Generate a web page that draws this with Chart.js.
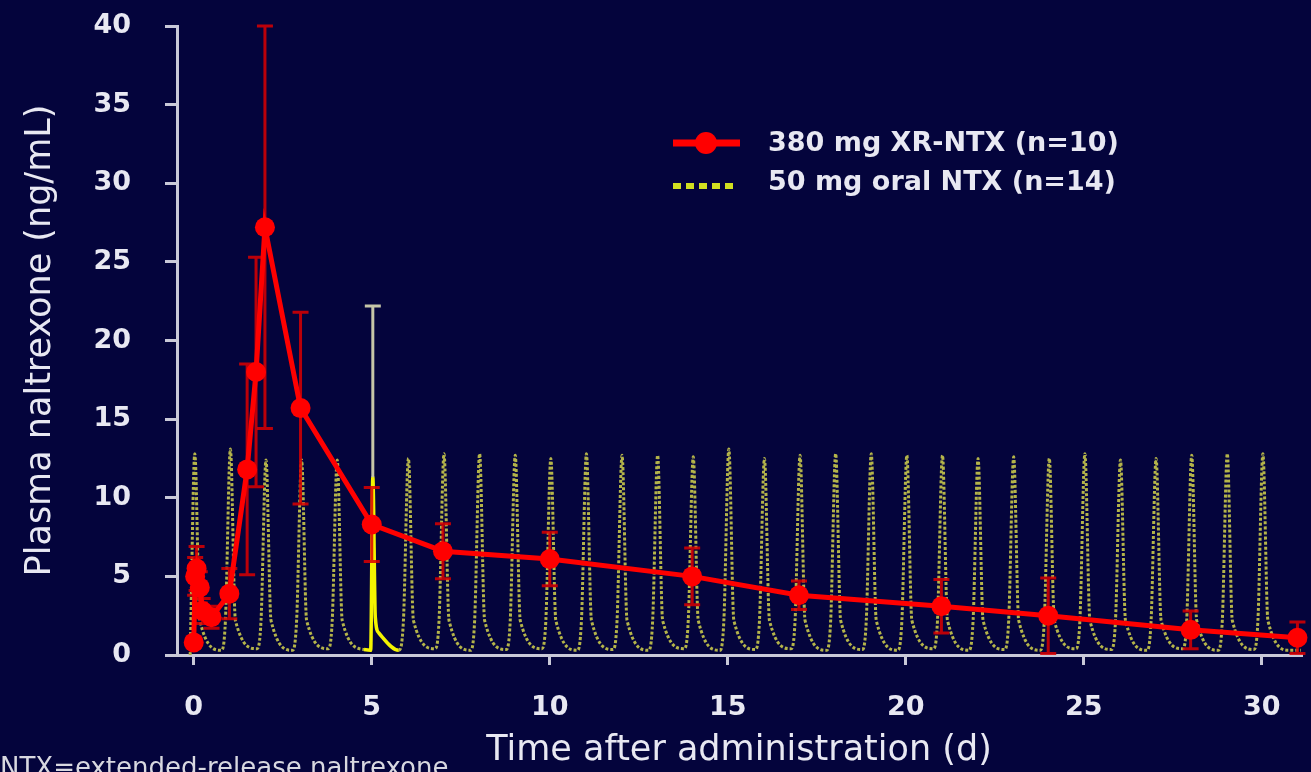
<!DOCTYPE html>
<html lang="en">
<head>
    <meta charset="UTF-8">
    <title>Plasma naltrexone</title>
    <style>
        body { margin: 0; background-color: #04043c; }
        .chart-container { width: 1311px; height: 772px; }
    </style>
</head>
<body>
    <div class="chart-container"><canvas id="pkChart"></canvas></div>

    <script src="https://cdn.jsdelivr.net/npm/chart.js"></script>
    <script>
        // 380 mg XR-NTX: mean and SD (ng/mL) by day
        const xrDays = [0, 0.04, 0.08, 0.17, 0.25, 0.5, 1, 1.5, 1.75, 2, 3, 5, 7, 10, 14, 17, 21, 24, 28, 31];
        const xrConc = [0.8, 5.0, 5.5, 4.3, 2.8, 2.4, 3.9, 11.8, 18.0, 27.2, 15.7, 8.3, 6.6, 6.1, 5.0, 3.8, 3.1, 2.5, 1.6, 1.1];
        const xrSD   = [0.3, 1.2, 1.4, 1.0, 0.8, 0.7, 1.6, 6.7, 7.3, 12.8, 6.1, 2.35, 1.75, 1.7, 1.8, 0.9, 1.7, 2.4, 1.2, 1.0];

        // 50 mg oral NTX, daily dosing profile
        const oralDays = [
            -0.1, 0.03, 0.17, 0.78,
            0.89, 1.03, 1.17, 1.78,
            1.89, 2.03, 2.17, 2.78,
            2.89, 3.03, 3.17, 3.78,
            3.89, 4.03, 4.17, 4.78,
            4.97, 5.03, 5.1, 5.2, 5.76,
            5.89, 6.03, 6.17, 6.78,
            6.89, 7.03, 7.17, 7.78,
            7.89, 8.03, 8.17, 8.78,
            8.89, 9.03, 9.17, 9.78,
            9.89, 10.03, 10.17, 10.78,
            10.89, 11.03, 11.17, 11.78,
            11.89, 12.03, 12.17, 12.78,
            12.89, 13.03, 13.17, 13.78,
            13.89, 14.03, 14.17, 14.78,
            14.89, 15.03, 15.17, 15.78,
            15.89, 16.03, 16.17, 16.78,
            16.89, 17.03, 17.17, 17.78,
            17.89, 18.03, 18.17, 18.78,
            18.89, 19.03, 19.17, 19.78,
            19.89, 20.03, 20.17, 20.78,
            20.89, 21.03, 21.17, 21.78,
            21.89, 22.03, 22.17, 22.78,
            22.89, 23.03, 23.17, 23.78,
            23.89, 24.03, 24.17, 24.78,
            24.89, 25.03, 25.17, 25.78,
            25.89, 26.03, 26.17, 26.78,
            26.89, 27.03, 27.17, 27.78,
            27.89, 28.03, 28.17, 28.78,
            28.89, 29.03, 29.17, 29.78,
            29.89, 30.03, 30.17, 30.78,
            31.1
        ];
        const oralConc = [
            0, 12.8, 2.2, 0.3,
            2.2, 13.1, 2.2, 0.4,
            2.2, 12.4, 2.2, 0.3,
            2.2, 12.4, 2.2, 0.4,
            2.2, 12.4, 2.2, 0.35,
            0.3, 11.3, 2.4, 1.4, 0.3,
            2.2, 12.5, 2.2, 0.4,
            2.2, 12.8, 2.2, 0.3,
            2.2, 12.8, 2.2, 0.35,
            2.2, 12.7, 2.2, 0.4,
            2.2, 12.5, 2.2, 0.3,
            2.2, 12.8, 2.2, 0.35,
            2.2, 12.7, 2.2, 0.3,
            2.2, 12.7, 2.2, 0.4,
            2.2, 12.6, 2.2, 0.3,
            2.2, 13.1, 2.2, 0.35,
            2.2, 12.5, 2.2, 0.4,
            2.2, 12.7, 2.2, 0.3,
            2.2, 12.8, 2.2, 0.35,
            2.2, 12.8, 2.2, 0.3,
            2.2, 12.7, 2.2, 0.4,
            2.2, 12.7, 2.2, 0.3,
            2.2, 12.5, 2.2, 0.35,
            2.2, 12.6, 2.2, 0.3,
            2.2, 12.5, 2.2, 0.4,
            2.2, 12.8, 2.2, 0.35,
            2.2, 12.4, 2.2, 0.3,
            2.2, 12.5, 2.2, 0.4,
            2.2, 12.7, 2.2, 0.3,
            2.2, 12.8, 2.2, 0.35,
            2.2, 12.8, 2.2, 0.3,
            0.3
        ];
        // measured oral day (bright curve) and its error bar
        const oralMeasured = [4.78, 5.76];
        const oralErrDay = 5.03;
        const oralErrTop = 22.2;

        const legendLabels = ['380 mg XR-NTX (n=10)', '50 mg oral NTX (n=14)'];
        const xTitle = 'Time after administration (d)';
        const yTitle = 'Plasma naltrexone (ng/mL)';
        const footnote = 'NTX=extended-release naltrexone';

        const TEXT = '#e8e8f2';
        const AXIS = '#c9c9d8';
        const FONT = 'DejaVu Sans';

        const inMeasured = c => c.p0.parsed.x >= oralMeasured[0] && c.p1.parsed.x <= oralMeasured[1];

        const errorBars = {
            id: 'errorBars',
            beforeDatasetDraw(chart, args) {
                const ds = chart.data.datasets[args.index];
                if (!ds.sd) return;
                const { ctx, scales: { x, y } } = chart;
                ctx.save();
                ctx.strokeStyle = 'rgba(220,0,0,0.85)';
                ctx.lineWidth = 3;
                ds.data.forEach((p, i) => {
                    const px = x.getPixelForValue(p.x);
                    const hi = y.getPixelForValue(p.y + ds.sd[i]);
                    const lo = y.getPixelForValue(Math.max(0, p.y - ds.sd[i]));
                    ctx.beginPath();
                    ctx.moveTo(px, hi); ctx.lineTo(px, lo);
                    ctx.moveTo(px - 8, hi); ctx.lineTo(px + 8, hi);
                    ctx.moveTo(px - 8, lo); ctx.lineTo(px + 8, lo);
                    ctx.stroke();
                });
                ctx.restore();
            },
            afterDatasetDraw(chart, args) {
                const ds = chart.data.datasets[args.index];
                if (!ds.errDay) return;
                const { ctx, scales: { x, y } } = chart;
                const i = ds.data.findIndex(p => p.x === ds.errDay);
                const px = x.getPixelForValue(ds.errDay);
                const top = y.getPixelForValue(ds.errTop);
                const from = y.getPixelForValue(ds.data[i].y);
                ctx.save();
                ctx.strokeStyle = '#c6c6a8';
                ctx.lineWidth = 3;
                ctx.beginPath();
                ctx.moveTo(px, from); ctx.lineTo(px, top);
                ctx.moveTo(px - 8, top); ctx.lineTo(px + 8, top);
                ctx.stroke();
                ctx.restore();
            }
        };

        const legendAndNote = {
            id: 'legendAndNote',
            afterDraw(chart) {
                const { ctx } = chart;
                ctx.save();
                // row 1: red line with marker
                ctx.strokeStyle = '#ff0000';
                ctx.lineWidth = 7;
                ctx.beginPath(); ctx.moveTo(673, 143); ctx.lineTo(740, 143); ctx.stroke();
                ctx.fillStyle = '#ff0000';
                ctx.beginPath(); ctx.arc(706, 143, 11, 0, Math.PI * 2); ctx.fill();
                // row 2: dotted yellow
                ctx.strokeStyle = '#d2e020';
                ctx.lineWidth = 6;
                ctx.setLineDash([8, 5]);
                ctx.beginPath(); ctx.moveTo(673, 186); ctx.lineTo(734, 186); ctx.stroke();
                ctx.setLineDash([]);

                ctx.fillStyle = TEXT;
                ctx.font = 'bold 27px "' + FONT + '"';
                ctx.textBaseline = 'middle';
                ctx.textAlign = 'left';
                ctx.fillText(legendLabels[0], 768, 144);
                ctx.fillText(legendLabels[1], 768, 183);

                ctx.font = '26px "' + FONT + '"';
                ctx.fillStyle = '#d8d8e0';
                ctx.textBaseline = 'alphabetic';
                ctx.fillText(footnote, 0, 776);
                ctx.restore();
            }
        };

        const chart = new Chart(document.getElementById('pkChart').getContext('2d'), {
            type: 'line',
            data: {
                datasets: [
                    {
                        label: legendLabels[0],
                        data: xrDays.map((d, i) => ({ x: d, y: xrConc[i] })),
                        sd: xrSD,
                        borderColor: '#ff0000',
                        backgroundColor: '#ff0000',
                        borderWidth: 5,
                        pointRadius: 10,
                        pointBorderWidth: 0,
                        tension: 0,
                        clip: false,
                        order: 1
                    },
                    {
                        label: legendLabels[1],
                        data: oralDays.map((d, i) => ({ x: d, y: oralConc[i] })),
                        errDay: oralErrDay,
                        errTop: oralErrTop,
                        borderColor: '#b4b44a',
                        borderWidth: 3,
                        borderDash: [3, 2],
                        pointRadius: 0,
                        cubicInterpolationMode: 'monotone',
                        segment: {
                            borderColor: c => inMeasured(c) ? '#f4f400' : undefined,
                            borderDash: c => inMeasured(c) ? [] : undefined,
                            borderWidth: c => inMeasured(c) ? 3.5 : undefined
                        },
                        order: 2
                    }
                ]
            },
            options: {
                responsive: true,
                maintainAspectRatio: false,
                animation: false,
                layout: { padding: { top: 26, right: 0, left: 0, bottom: 0 } },
                plugins: { legend: { display: false }, tooltip: { enabled: false } },
                scales: {
                    x: {
                        type: 'linear',
                        min: -0.47,
                        max: 31.1,
                        afterFit: s => { s.height = 117; },
                        border: { color: AXIS, width: 3 },
                        grid: { drawOnChartArea: false, color: AXIS, lineWidth: 3, tickLength: 10 },
                        ticks: { stepSize: 5, includeBounds: false, padding: 27, color: TEXT,
                                 font: { family: FONT, size: 27, weight: 'bold' } },
                        title: { display: true, text: xTitle, color: TEXT, padding: { top: 0, bottom: 0 },
                                 font: { family: FONT, size: 35 } }
                    },
                    y: {
                        min: 0,
                        max: 40,
                        afterFit: s => { s.width = 177; s.paddingTop = 0; },
                        border: { color: AXIS, width: 3 },
                        grid: { drawOnChartArea: false, color: AXIS, lineWidth: 3, tickLength: 12 },
                        ticks: { stepSize: 5, padding: 34, color: TEXT,
                                 font: { family: FONT, size: 27, weight: 'bold' } },
                        title: { display: true, text: yTitle, color: TEXT, padding: { top: 20, bottom: 0 },
                                 font: { family: FONT, size: 35 } }
                    }
                }
            },
            plugins: [errorBars, legendAndNote]
        });
    </script>
</body>
</html>
